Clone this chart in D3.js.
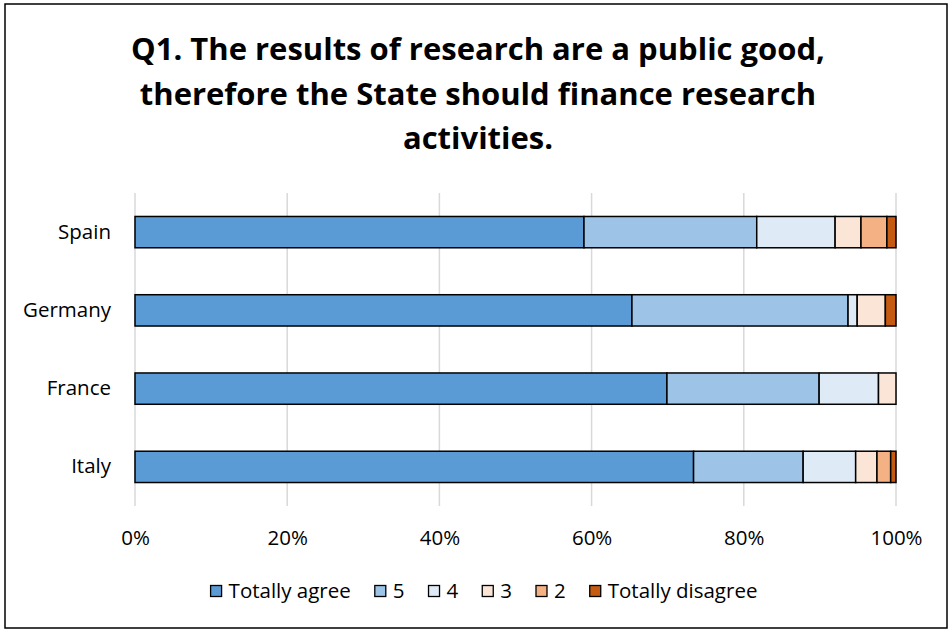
<!DOCTYPE html>
<html>
<head>
<meta charset="utf-8">
<script src="https://cdn.jsdelivr.net/npm/d3@7"></script>
<style>
  body { margin: 0; background: #fff; }
  svg { display: block; font-family: "Open Sans", Lato, sans-serif; }
</style>
</head>
<body>
<div id="chart"></div>
<script>
const countries = ["Spain", "Germany", "France", "Italy"];
const seriesNames = ["Totally agree", "5", "4", "3", "2", "Totally disagree"];
const seriesColors = ["#5B9BD5", "#9DC3E6", "#DEEBF7", "#FBE5D6", "#F4B183", "#C55A11"];

// share of answers per country, in %
const totallyAgree = [59.0, 65.3, 69.9, 73.4];
const five = [22.7, 28.4, 20.0, 14.4];
const four = [10.3, 1.2, 7.8, 6.9];
const three = [3.4, 3.7, 2.3, 2.8];
const two = [3.4, 0, 0, 1.8];
const totallyDisagree = [1.2, 1.4, 0, 0.7];

const xTicks = [0, 20, 40, 60, 80, 100];
const titleLines = [
    "Q1. The results of research are a public good,",
    "therefore the State should finance research",
    "activities."
];

const W = 949, H = 629;
const margin = { top: 193, right: 53, bottom: 123, left: 135 };
const width = W - margin.left - margin.right;
const height = H - margin.top - margin.bottom;
const labelFont = "20.5px";

const rows = countries.map((c, i) => {
    const r = { country: c };
    [totallyAgree, five, four, three, two, totallyDisagree].forEach((arr, k) => r[seriesNames[k]] = arr[i]);
    return r;
});
const stacked = d3.stack().keys(seriesNames)(rows);

const color = d3.scaleOrdinal().domain(seriesNames).range(seriesColors);

const svg = d3.select("#chart").append("svg")
    .attr("width", W)
    .attr("height", H);

svg.append("rect")
    .attr("x", 5).attr("y", 4)
    .attr("width", 942).attr("height", 624)
    .attr("fill", "#fff")
    .attr("stroke", "#000")
    .attr("stroke-width", 1.5);

// title
svg.append("text")
    .attr("text-anchor", "middle")
    .style("font-weight", "bold")
    .style("font-size", "31px")
    .attr("fill", "#000")
    .selectAll("tspan")
    .data(titleLines)
    .enter()
    .append("tspan")
    .attr("x", 478)
    .attr("y", (d, i) => 60 + i * 44.5)
    .text(d => d);

const g = svg.append("g")
    .attr("transform", `translate(${margin.left},${margin.top})`);

const x = d3.scaleLinear().domain([0, 100]).range([0, width]);
const y = d3.scaleBand()
    .domain(countries)
    .range([0, height])
    .paddingInner(0.6)
    .paddingOuter(0.3);

// gridlines
g.append("g")
    .selectAll("line")
    .data(xTicks)
    .enter()
    .append("line")
    .attr("x1", d => x(d)).attr("x2", d => x(d))
    .attr("y1", 0).attr("y2", height)
    .attr("stroke", "#D9D9D9")
    .attr("stroke-width", 1.5);

// x axis labels
const xAxis = g.append("g")
    .attr("transform", `translate(0,${height})`)
    .call(d3.axisBottom(x).tickValues(xTicks).tickFormat(d => d + "%").tickSize(0).tickPadding(0));
xAxis.select(".domain").remove();
xAxis.selectAll("text")
    .attr("y", 39)
    .attr("dy", null)
    .style("font-family", "'Open Sans', sans-serif")
    .style("font-size", labelFont)
    .attr("fill", "#000");

// y axis labels
const yAxis = g.append("g")
    .call(d3.axisLeft(y).tickSize(0).tickPadding(24));
yAxis.select(".domain").remove();
yAxis.selectAll("text")
    .style("font-family", "'Open Sans', sans-serif")
    .style("font-size", labelFont)
    .attr("fill", "#000");

// bars
g.append("g")
    .selectAll("g")
    .data(stacked)
    .enter()
    .append("g")
    .attr("fill", d => color(d.key))
    .selectAll("rect")
    .data(d => d.filter(s => s[1] - s[0] > 0))
    .enter()
    .append("rect")
    .attr("x", d => x(d[0]))
    .attr("y", d => y(d.data.country))
    .attr("width", d => x(d[1]) - x(d[0]))
    .attr("height", y.bandwidth())
    .attr("stroke", "#000")
    .attr("stroke-width", 1.5);

// legend
const legend = svg.append("g");
const items = legend.selectAll("g")
    .data(seriesNames)
    .enter()
    .append("g");
items.append("rect")
    .attr("width", 11).attr("height", 11)
    .attr("y", -5.5)
    .attr("fill", d => color(d))
    .attr("stroke", "#000")
    .attr("stroke-width", 1.3);
items.append("text")
    .attr("x", 18)
    .attr("y", 7)
    .style("font-size", labelFont)
    .attr("fill", "#000")
    .text(d => d);

let lx = 0;
items.each(function () {
    const it = d3.select(this);
    it.attr("transform", `translate(${lx},0)`);
    lx += 18 + it.select("text").node().getComputedTextLength() + 24;
});
const legendWidth = lx - 24;
legend.attr("transform", `translate(${484 - legendWidth / 2},591)`);
</script>
</body>
</html>
